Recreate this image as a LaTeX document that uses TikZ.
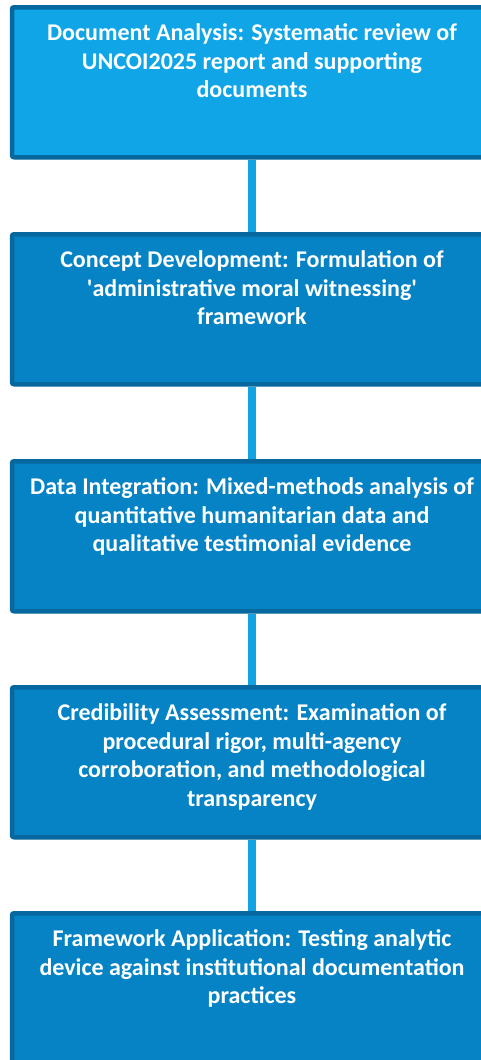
\documentclass[tikz,border=0pt]{standalone}
\usepackage{fontspec}
\setmainfont{Carlito}
\usepackage{tikz}
\usetikzlibrary{shadows,backgrounds}

\definecolor{stageblue}{HTML}{0583C5}
\definecolor{toplight}{HTML}{0FA5E6}
\definecolor{stageedge}{HTML}{0768A0}
\definecolor{linkblue}{HTML}{12A3E2}

\tikzset{
every picture/.style={
line width=1pt
}}

\newcommand{\stagetext}[1]{\parbox[c][134pt][t]{464pt}{\centering\fontsize{24}{28.5}\selectfont\bfseries\color{white}\rule{0pt}{25.5pt}#1}}

\begin{document}
\begin{tikzpicture}[x=1pt, y=-1pt,
stage/.style = {rectangle, draw=stageedge, line width=4.5pt, fill=stageblue, rounded corners=2pt, inner sep=8pt, anchor=north, drop shadow={shadow xshift=1.5pt, shadow yshift=-2pt, opacity=0.35}},
link/.style = {draw=linkblue, line width=8pt}]

\useasboundingbox (0,0) rectangle (481,1060);
\clip (0,0) rectangle (481,1060);

\node[stage, fill=toplight] (analysis) at (252,5) {\stagetext{Document Analysis: Systematic review of\\ UNCOI2025 report and supporting\\ documents}};
\node[stage] (concept) at (252,232) {\stagetext{Concept Development: Formulation of\\ \textquotesingle administrative moral witnessing\textquotesingle\\ framework}};
\node[stage] (integration) at (252,459) {\stagetext{Data Integration: Mixed-methods analysis of\\ quantitative humanitarian data and\\ qualitative testimonial evidence}};
\node[stage] (credibility) at (252,685) {\stagetext{Credibility Assessment: Examination of\\ procedural rigor, multi-agency\\ corroboration, and methodological\\ transparency}};
\node[stage] (application) at (252,911) {\stagetext{Framework Application: Testing analytic\\ device against institutional documentation\\ practices}};

% connectors behind the boxes
\begin{pgfonlayer}{background}
\draw[link] (analysis) -- (concept);
\draw[link] (concept) -- (integration);
\draw[link] (integration) -- (credibility);
\draw[link] (credibility) -- (application);
\end{pgfonlayer}
\end{tikzpicture}
\end{document}
